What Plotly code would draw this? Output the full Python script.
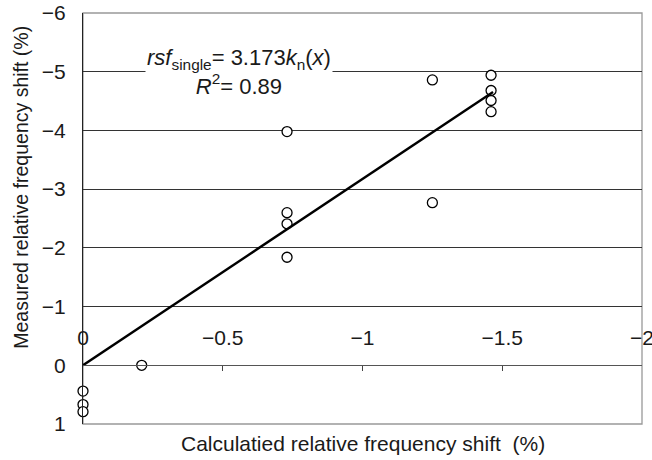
import plotly.graph_objects as go

# Data
calc_shift = [0, 0, 0, -0.21, -0.73, -0.73, -0.73, -0.73,
              -1.25, -1.25, -1.46, -1.46, -1.46, -1.46]
meas_shift = [0.44, 0.67, 0.79, 0.0, -1.84, -2.41, -2.60, -3.98,
              -4.86, -2.77, -4.94, -4.68, -4.51, -4.32]
fit_slope = 3.173
fit_x = [0, -1.467]
fit_y = [fit_slope * v for v in fit_x]
x_ticks = [0, -0.5, -1, -1.5, -2]
y_ticks = [-6, -5, -4, -3, -2, -1, 0, 1]

FONT = "Arial, 'Liberation Sans', sans-serif"
TXT = "#1a1a1a"

fig = go.Figure()
fig.add_trace(go.Scatter(
    x=calc_shift, y=meas_shift, mode="markers",
    marker=dict(symbol="circle", size=10, color="white",
                line=dict(color="black", width=1.3)),
    cliponaxis=False, showlegend=False))
fig.add_trace(go.Scatter(
    x=fit_x, y=fit_y, mode="lines",
    line=dict(color="black", width=2.4),
    cliponaxis=False, showlegend=False))

fig.update_layout(
    width=652, height=460,
    margin=dict(l=83, r=10, t=13, b=36, autoexpand=False),
    paper_bgcolor="white", plot_bgcolor="white",
    font=dict(family=FONT, size=21, color=TXT),
    xaxis=dict(
        range=[0, -2], tickvals=x_ticks, side="top",
        anchor="free", position=1/7, automargin=False,
        ticks="inside", ticklen=5, tickcolor="#444", tickwidth=1,
        showline=True, linecolor="#555", linewidth=1.2,
        showgrid=False, zeroline=False,
        ticklabelstandoff=12, ticklabeloverflow="allow",
        tickfont=dict(size=21, color=TXT),
    ),
    yaxis=dict(
        range=[1, -6], tickvals=y_ticks, automargin=False,
        showline=True, linecolor="#222", linewidth=1.3,
        showgrid=True, gridcolor="#333", gridwidth=1,
        zeroline=False, ticks="",
        ticklabelstandoff=12,
        tickfont=dict(size=21, color=TXT),
    ),
    shapes=[dict(type="rect", xref="paper", yref="paper", x0=0, x1=1, y0=0, y1=1,
                 line=dict(color="#999", width=1.3), layer="below")],
    annotations=[
        dict(x=-0.559, y=-5.0, xref="x", yref="y",
             text="<i>rsf</i><sub>single</sub>= 3.173<i>k</i><sub>n</sub>(<i>x</i>)<br><i>R</i><sup>2</sup>= 0.89",
             showarrow=False, bgcolor="white", borderpad=1,
             font=dict(size=22, color=TXT), align="center"),
        dict(x=0.5, y=-0.015, xref="paper", yref="paper", yanchor="top", xanchor="center",
             text="Calculatied relative frequency shift  (%)", showarrow=False,
             font=dict(size=21, color=TXT)),
        dict(x=-0.111, y=0.577, xref="paper", yref="paper", textangle=-90,
             xanchor="center", yanchor="middle",
             text="Measured relative frequency shift (%)", showarrow=False,
             font=dict(size=19.5, color=TXT)),
    ],
)

fig.write_html("out.html")
